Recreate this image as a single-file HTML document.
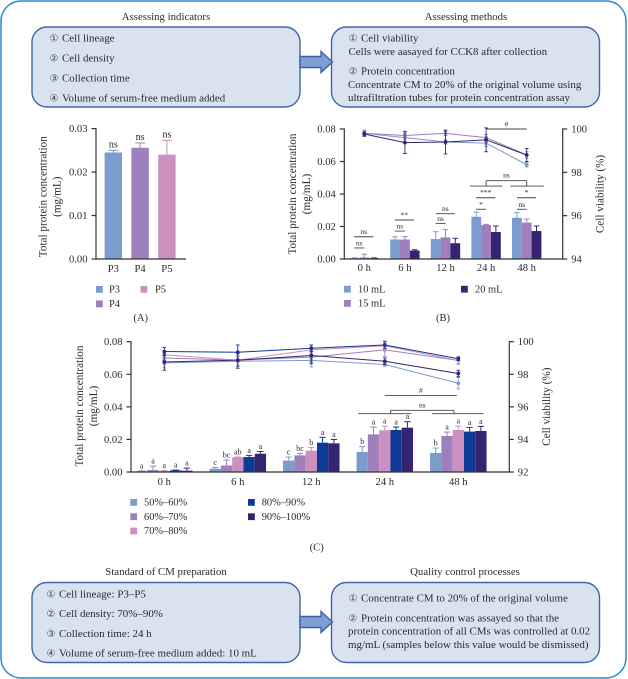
<!DOCTYPE html>
<html lang="en">
<head>
<meta charset="utf-8">
<title>CM preparation figure</title>
<style>
html,body{margin:0;padding:0;background:#fff;}
#fig{display:block;width:628px;height:679px;filter:blur(0.35px);}
text{font-family:"Liberation Serif","DejaVu Serif",serif;fill:#2b2b2b;font-size:10.95px;}
text.t{font-size:10.8px;}
text.c{font-family:"DejaVu Sans","Noto Sans CJK JP",sans-serif;font-size:10px;fill:#444;}
.box{fill:#d9e3f0;stroke:#3f66a8;stroke-width:1.4;}
.arrow{fill:#7f9fd2;stroke:#3b62aa;stroke-width:1.4;}
</style>
</head>
<body>
<svg id="fig" xmlns="http://www.w3.org/2000/svg" width="628" height="679" viewBox="0 0 628 679">
<rect x="1" y="1" width="625" height="677" rx="20" fill="#fff" stroke="#2b8bc9" stroke-width="1.5"/>

<text class="t" x="166" y="20" text-anchor="middle">Assessing indicators</text>
<text class="t" x="466" y="20" text-anchor="middle">Assessing methods</text>
<rect class="box" x="32" y="27" width="268" height="80" rx="15"/>
<rect class="box" x="331.5" y="27" width="268" height="80" rx="15"/>
<path class="arrow" d="M300 56.5H321V51.5L332.5 62L321 72.5V67.5H300Z"/>

<g>
<text class="c" x="49.5" y="41.5">①</text><text x="62" y="41.5">Cell lineage</text>
<text class="c" x="49.5" y="61.5">②</text><text x="62" y="61.5">Cell density</text>
<text class="c" x="49.5" y="81.5">③</text><text x="62" y="81.5">Collection time</text>
<text class="c" x="49.5" y="101.5">④</text><text x="62" y="101.5">Volume of serum-free medium added</text>
</g>
<g>
<text class="c" x="348.5" y="41.5">①</text><text x="361" y="41.5">Cell viability</text>
<text x="348.5" y="55">Cells were aasayed for CCK8 after collection</text>
<text class="c" x="348.5" y="74.5">②</text><text x="361" y="74.5">Protein concentration</text>
<text x="348" y="88">Concentrate CM to 20% of the original volume using</text>
<text x="348" y="101">ultrafiltration tubes for protein concentration assay</text>
</g>

<g id="panelA"></g>
<g id="panelB"></g>
<g id="panelC"></g>

<text class="t" x="166" y="575" text-anchor="middle">Standard of CM preparation</text>
<text class="t" x="465" y="575" text-anchor="middle">Quality control processes</text>
<rect class="box" x="32" y="582.5" width="268" height="80" rx="15"/>
<rect class="box" x="331.5" y="582.5" width="268" height="80" rx="15"/>
<path class="arrow" d="M300 616.5H321V611.5L332.5 622L321 632.5V627.5H300Z"/>

<g>
<text class="c" x="46.5" y="597.5">①</text><text x="59" y="597.5">Cell lineage: P3–P5</text>
<text class="c" x="46.5" y="617">②</text><text x="59" y="617">Cell density: 70%–90%</text>
<text class="c" x="46.5" y="637">③</text><text x="59" y="637">Collection time: 24 h</text>
<text class="c" x="46.5" y="656.5">④</text><text x="59" y="656.5">Volume of serum-free medium added: 10 mL</text>
</g>
<g>
<text class="c" x="348.5" y="601.5">①</text><text x="361" y="601.5">Concentrate CM to 20% of the original volume</text>
<text class="c" x="348.5" y="621.5">②</text><text x="361" y="621.5">Protein concentration was assayed so that the</text>
<text x="348" y="634.5">protein concentration of all CMs was controlled at 0.02</text>
<text x="348" y="648">mg/mL (samples below this value would be dismissed)</text>
</g>
</svg>

<script>
// Shared colours
const seriesLight = '#7b9ccd';
const seriesPurple = '#a07fbd';
const seriesPink = '#cc90c0';
const seriesBlue = '#0d3a94';
const seriesDark = '#35246f';
const axisColor = '#333333';

// Panel A data
const aCategories = ['P3', 'P4', 'P5'];
const aValues = [0.0245, 0.0256, 0.024];
const aErrors = [0.0005, 0.0011, 0.0033];
const aLabels = ['ns', 'ns', 'ns'];
const aTicks = [0, 0.01, 0.02, 0.03];

// Panel B data
const bCategories = ['0 h', '6 h', '12 h', '24 h', '48 h'];
const bSeriesNames = ['10 mL', '15 mL', '20 mL'];
const bBars10 = [0.0005, 0.012, 0.0123, 0.026, 0.0254];
const bBars15 = [0.001, 0.012, 0.0133, 0.0209, 0.0224];
const bBars20 = [0.0005, 0.0052, 0.0097, 0.0166, 0.0172];
const bBarErr10 = [0.0003, 0.0017, 0.0045, 0.0029, 0.0031];
const bBarErr15 = [0.002, 0.0018, 0.0047, 0.0004, 0.0022];
const bBarErr20 = [0.0002, 0.0005, 0.003, 0.0037, 0.0031];
const bLine10 = [99.8, 99.6, 99.4, 99.35, 98.35];
const bLine15 = [99.8, 99.7, 99.8, 99.6, 98.8];
const bLine20 = [99.77, 99.37, 99.4, 99.5, 98.8];
const bLineErr10 = [0.15, 0.2, 0.1, 0.15, 0.1];
const bLineErr15 = [0.1, 0.2, 0.1, 0.15, 0.15];
const bLineErr20 = [0.1, 0.5, 0.55, 0.55, 0.3];
const bLeftTicks = [0, 0.02, 0.04, 0.06, 0.08];
const bRightTicks = [94, 96, 98, 100];
// [from category, to category, left-axis value, label]
const bNotes = [
  [-0.25, 0, 0.0068, 'ns'], [-0.25, 0.22, 0.0137, 'ns'],
  [0.75, 1, 0.0172, 'ns'], [0.75, 1.22, 0.024, '**'],
  [1.76, 2, 0.0219, 'ns'], [1.76, 2.23, 0.0279, 'ns'],
  [2.75, 3, 0.0306, '*'], [2.75, 3.23, 0.0377, '***'],
  [3.76, 4, 0.0306, 'ns'], [3.76, 4.23, 0.0377, '*'],
  [3, 4, 0.08, '#']
];
const bGroupBrackets = [[2.6, 3.4, 3, 4, 3.6, 4.42, 0.0449, 0.0482, 'ns']];

// Panel C data
const cCategories = ['0 h', '6 h', '12 h', '24 h', '48 h'];
const cSeriesNames = ['50%–60%', '60%–70%', '70%–80%', '80%–90%', '90%–100%'];
const cBars50 = [0.0005, 0.002, 0.007, 0.0123, 0.0117];
const cBars60 = [0.0012, 0.004, 0.0102, 0.0231, 0.0221];
const cBars70 = [0.0006, 0.009, 0.0131, 0.0256, 0.0258];
const cBars80 = [0.001, 0.0092, 0.018, 0.0258, 0.0248];
const cBars90 = [0.0008, 0.0112, 0.0176, 0.0272, 0.0252];
const cBarErr50 = [0.0002, 0.0008, 0.0022, 0.0033, 0.003];
const cBarErr60 = [0.0024, 0.0034, 0.0013, 0.0045, 0.0024];
const cBarErr70 = [0.0004, 0.0002, 0.0019, 0.0026, 0.0024];
const cBarErr80 = [0.0002, 0.001, 0.0033, 0.0018, 0.0026];
const cBarErr90 = [0.0016, 0.0014, 0.0024, 0.0037, 0.0028];
const cLetters50 = ['a', 'c', 'c', 'b', 'b'];
const cLetters60 = ['a', 'bc', 'bc', 'a', 'a'];
const cLetters70 = ['a', 'ab', 'b', 'a', 'a'];
const cLetters80 = ['a', 'a', 'a', 'a', 'a'];
const cLetters90 = ['a', 'a', 'a', 'a', 'a'];
const cLine50 = [98.7, 98.8, 98.85, 98.6, 97.45];
const cLine60 = [99.0, 98.87, 99.05, 99.5, 98.85];
const cLine70 = [99.2, 98.87, 99.5, 99.75, 98.85];
const cLine80 = [99.4, 99.35, 99.6, 99.8, 98.95];
const cLine90 = [98.75, 98.87, 99.15, 98.8, 98.05];
const cLineErr50 = [0.3, 0.3, 0.4, 0.1, 0.35];
const cLineErr60 = [0.15, 0.4, 0.3, 0.4, 0.2];
const cLineErr70 = [0.2, 0.3, 0.3, 0.3, 0.25];
const cLineErr80 = [0.25, 0.45, 0.2, 0.2, 0.1];
const cLineErr90 = [0.5, 0.5, 0.5, 0.2, 0.2];
const cLeftTicks = [0, 0.02, 0.04, 0.06, 0.08];
const cRightTicks = [92, 94, 96, 98, 100];
const cNotes = [[3, 3.98, 0.0469, '#']];
const cGroupBrackets = [[2.64, 3.36, 3.08, 3.94, 3.64, 4.34, 0.0358, 0.0379, 'ns']];

const NS = 'http://www.w3.org/2000/svg';
const tickSize = 10.6;
const titleSize = 11.2;
function make(parent, tag, attrs, txt) {
  const el = document.createElementNS(NS, tag);
  for (const k in attrs) el.setAttribute(k, attrs[k]);
  if (txt !== undefined) el.textContent = txt;
  parent.appendChild(el);
  return el;
}
function scale(d0, d1, r0, r1) {
  return v => r0 + (v - d0) / (d1 - d0) * (r1 - r0);
}
function drawLine(parent, x1, y1, x2, y2, color, width, name) {
  const el = make(parent, 'line', {x1: x1, y1: y1, x2: x2, y2: y2, stroke: color, 'stroke-width': width});
  
  
  return el;
}
function drawText(parent, x, y, str, anchor, size, name, rotate) {
  const attrs = {x: x, y: y, 'text-anchor': anchor, style: 'font-size:' + size + 'px'};
  if (rotate) attrs.transform = 'rotate(-90 ' + x + ' ' + y + ')';
  const el = make(parent, 'text', attrs, str);
  
  
  return el;
}
function drawYAxis(parent, x, y, ticks, fmt, side, name) {
  drawLine(parent, x, y(ticks[0]) + 0.6, x, y(ticks[ticks.length - 1]) - 0.6, axisColor, 1.2, name + '-line');
  ticks.forEach(t => {
    const dir = side === 'left' ? -1 : 1;
    drawLine(parent, x, y(t), x + dir * 4.5, y(t), axisColor, 1.2, name + '-tick');
    drawText(parent, x + dir * 8.5, y(t) + 3.5, fmt(t), side === 'left' ? 'end' : 'start', tickSize, name + '-tick-label');
  });
}
function drawXAxis(parent, x0, x1, yPos, labelY, cats, xc) {
  drawLine(parent, x0, yPos, x1, yPos, axisColor, 1.2, 'x-axis-line');
  cats.forEach((c, i) => {
    drawText(parent, xc(i), labelY, c, 'middle', tickSize, 'x-axis-label');
  });
}
function drawBar(parent, cx, w, value, err, y, color) {
  const top = y(value), base = y(0), errTop = y(value + err);
  drawLine(parent, cx, top, cx, errTop, color, 1, 'error-bar');
  drawLine(parent, cx - w * 0.28, errTop, cx + w * 0.28, errTop, color, 1, 'error-cap');
  const el = make(parent, 'rect', {x: cx - w / 2, y: top, width: w, height: base - top, fill: color});
  
  
  return errTop;
}
function drawSeriesLine(parent, values, errors, xc, y, color) {
  const pts = values.map((v, i) => xc(i) + ',' + y(v)).join(' ');
  const pl = make(parent, 'polyline', {points: pts, fill: 'none', stroke: color, 'stroke-width': 1});
  
  
  values.forEach((v, i) => {
    const x = xc(i);
    drawLine(parent, x, y(v - errors[i]), x, y(v + errors[i]), color, 0.9, 'line-error-bar');
    drawLine(parent, x - 1.8, y(v + errors[i]), x + 1.8, y(v + errors[i]), color, 0.9, 'line-error-cap');
    drawLine(parent, x - 1.8, y(v - errors[i]), x + 1.8, y(v - errors[i]), color, 0.9, 'line-error-cap');
    const p = make(parent, 'circle', {cx: x, cy: y(v), r: 1.9, fill: color});
    
    
  });
}
function drawLegend(parent, x, y, name, color, textGap) {
  const el = make(parent, 'rect', {x: x, y: y, width: 6.8, height: 6.8, fill: color});
  
  
  drawText(parent, x + textGap, y + 6.6, name, 'start', 10.4, 'legend-label');
}
function drawNotes(parent, notes, xf, y) {
  notes.forEach(n => {
    drawLine(parent, xf(n[0]), y(n[2]), xf(n[1]), y(n[2]), '#444', 0.9, 'significance-line');
    drawText(parent, (xf(n[0]) + xf(n[1])) / 2, y(n[2]) - 2.5, n[3], 'middle', 7.5, 'significance-label');
  });
}
function drawGroups(parent, groups, xf, y) {
  groups.forEach(g => {
    const low = y(g[6]), high = y(g[7]);
    drawLine(parent, xf(g[0]), low, xf(g[1]), low, '#444', 0.9, 'group-line');
    drawLine(parent, xf(g[4]), low, xf(g[5]), low, '#444', 0.9, 'group-line');
    drawLine(parent, xf(g[2]), high, xf(g[3]), high, '#444', 0.9, 'bracket-top');
    drawLine(parent, xf(g[2]), high, xf(g[2]), low, '#444', 0.9, 'bracket-left');
    drawLine(parent, xf(g[3]), high, xf(g[3]), low, '#444', 0.9, 'bracket-right');
    drawText(parent, (xf(g[2]) + xf(g[3])) / 2, high - 3, g[8], 'middle', 7.5, 'significance-label');
  });
}

/* ---------- Panel A ---------- */
(function () {
  const g = document.getElementById('panelA');
  const y = scale(0, 0.03, 259, 128.6);
  const xc = i => 113.3 + i * 26.8;
  const colors = [seriesLight, seriesPurple, seriesPink];
  aValues.forEach((v, i) => {
    const t = drawBar(g, xc(i), 17.4, v, aErrors[i], y, colors[i]);
    drawText(g, xc(i), t - 3, aLabels[i], 'middle', 10, 'significance-label');
  });
  drawYAxis(g, 96, y, aTicks, t => t.toFixed(2), 'left', 'y-axis');
  drawXAxis(g, 96, 186, 259, 272, aCategories, xc);
  drawText(g, 46.5, 196.7, 'Total protein concentration', 'middle', titleSize, 'y-axis-title', true);
  drawText(g, 60.5, 196.7, '(mg/mL)', 'middle', titleSize, 'y-axis-unit', true);
  drawLegend(g, 96, 286, aCategories[0], colors[0], 13);
  drawLegend(g, 96, 300.5, aCategories[1], colors[1], 13);
  drawLegend(g, 140.5, 286, aCategories[2], colors[2], 14.5);
  drawText(g, 140.7, 321, '(A)', 'middle', tickSize, 'panel-label');
})();

/* ---------- Panel B ---------- */
(function () {
  const g = document.getElementById('panelB');
  const y = scale(0, 0.08, 259, 129);
  const yR = scale(94, 100, 259, 129);
  const xc = i => 364.3 + i * 40.6;
  const w = 9.8;
  const colors = [seriesLight, seriesPurple, seriesDark];
  const bars = [bBars10, bBars15, bBars20];
  const errs = [bBarErr10, bBarErr15, bBarErr20];
  bCategories.forEach((c, i) => {
    bars.forEach((s, k) => {
      drawBar(g, xc(i) + (k - 1) * w, w, s[i], errs[k][i], y, colors[k]);
    });
  });
  drawSeriesLine(g, bLine10, bLineErr10, xc, yR, colors[0]);
  drawSeriesLine(g, bLine15, bLineErr15, xc, yR, colors[1]);
  drawSeriesLine(g, bLine20, bLineErr20, xc, yR, colors[2]);
  drawNotes(g, bNotes, xc, y);
  drawGroups(g, bGroupBrackets, xc, y);
  drawYAxis(g, 344.3, y, bLeftTicks, t => t.toFixed(2), 'left', 'left-y-axis');
  drawYAxis(g, 562.7, yR, bRightTicks, t => String(t), 'right', 'right-y-axis');
  drawXAxis(g, 344.3, 562.7, 259, 271, bCategories, xc);
  drawText(g, 295.8, 194, 'Total protein concentration', 'middle', titleSize, 'y-axis-title', true);
  drawText(g, 310.2, 194, '(mg/mL)', 'middle', titleSize, 'y-axis-unit', true);
  drawText(g, 603.5, 194, 'Cell viability (%)', 'middle', titleSize, 'right-y-axis-title', true);
  drawLegend(g, 344, 285.8, bSeriesNames[0], colors[0], 14);
  drawLegend(g, 344, 300, bSeriesNames[1], colors[1], 14);
  drawLegend(g, 461, 285.8, bSeriesNames[2], colors[2], 14);
  drawText(g, 443, 321, '(B)', 'middle', tickSize, 'panel-label');
})();

/* ---------- Panel C ---------- */
(function () {
  const g = document.getElementById('panelC');
  const y = scale(0, 0.08, 472, 341.7);
  const yR = scale(92, 100, 472, 341.7);
  const xc = i => 164.3 + i * 73.5;
  const w = 11.3;
  const colors = [seriesLight, seriesPurple, seriesPink, seriesBlue, seriesDark];
  const bars = [cBars50, cBars60, cBars70, cBars80, cBars90];
  const errs = [cBarErr50, cBarErr60, cBarErr70, cBarErr80, cBarErr90];
  const letters = [cLetters50, cLetters60, cLetters70, cLetters80, cLetters90];
  cCategories.forEach((c, i) => {
    bars.forEach((s, k) => {
      const cx = xc(i) + (k - 2) * w;
      const t = drawBar(g, cx, w, s[i], errs[k][i], y, colors[k]);
      drawText(g, cx, t - 2.5, letters[k][i], 'middle', 8, 'significance-letter');
    });
  });
  [cLine50, cLine60, cLine70, cLine80, cLine90].forEach((s, k) => {
    const e = [cLineErr50, cLineErr60, cLineErr70, cLineErr80, cLineErr90][k];
    drawSeriesLine(g, s, e, xc, yR, colors[k]);
  });
  drawNotes(g, cNotes, xc, y);
  drawGroups(g, cGroupBrackets, xc, y);
  drawYAxis(g, 131, y, cLeftTicks, t => t.toFixed(2), 'left', 'left-y-axis');
  drawYAxis(g, 509.3, yR, cRightTicks, t => String(t), 'right', 'right-y-axis');
  drawXAxis(g, 131, 509.3, 472, 485, cCategories, xc);
  drawText(g, 82.8, 406, 'Total protein concentration', 'middle', titleSize, 'y-axis-title', true);
  drawText(g, 96.8, 406, '(mg/mL)', 'middle', titleSize, 'y-axis-unit', true);
  drawText(g, 550.2, 406.7, 'Cell viability (%)', 'middle', titleSize, 'right-y-axis-title', true);
  drawLegend(g, 130.3, 499, cSeriesNames[0], colors[0], 13.7);
  drawLegend(g, 130.3, 513.3, cSeriesNames[1], colors[1], 13.7);
  drawLegend(g, 130.3, 527.6, cSeriesNames[2], colors[2], 13.7);
  drawLegend(g, 248, 499, cSeriesNames[3], colors[3], 13.7);
  drawLegend(g, 248, 513.3, cSeriesNames[4], colors[4], 13.7);
  drawText(g, 316.7, 550.5, '(C)', 'middle', tickSize, 'panel-label');
})();
</script>
</body>
</html>
